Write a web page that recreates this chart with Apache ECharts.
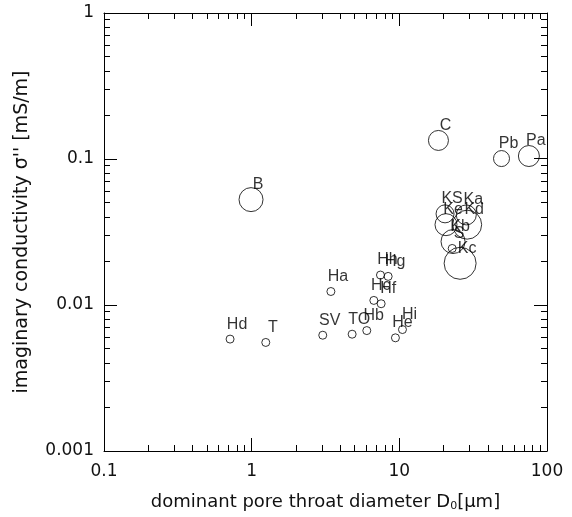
<!DOCTYPE html>
<html>
<head>
<meta charset="utf-8">
<script src="https://cdn.jsdelivr.net/npm/echarts@6/dist/echarts.min.js"></script>
<style>
  html, body { margin: 0; padding: 0; background: #fff; }
  #chart { width: 572px; height: 517px; }
</style>
</head>
<body>
<div id="chart"></div>
<script>
// Sample names, dominant pore throat diameter D0 [µm], imaginary conductivity [mS/m]
const sampleNames = ['Hd', 'T', 'SV', 'TO', 'Hb', 'Ha', 'Hh', 'Hg', 'Hc', 'Hf', 'He', 'Hi',
                     'B', 'C', 'Pb', 'Pa', 'KS', 'Ke', 'Ka', 'Kd', 'Kb', 'S', 'Kc'];
const poreThroat = [0.714, 1.246, 3.03, 4.79, 6.02, 3.44, 7.45, 8.40, 6.72, 7.53, 9.41, 10.5,
                    0.99, 18.4, 49.2, 75.4, 20.4, 20.7, 28.4, 28.8, 23.1, 22.8, 25.8];
const imagCond = [0.00584, 0.00554, 0.00621, 0.00631, 0.00668, 0.01237, 0.01604, 0.0157,
                  0.01075, 0.0102, 0.00596, 0.00679,
                  0.0527, 0.134, 0.1007, 0.1048, 0.0421, 0.0355, 0.0414, 0.0355, 0.0272, 0.0244, 0.0193];
// marker diameter for each sample
const markerSize = [8, 8, 8, 8, 8, 8, 8, 8, 8, 8, 8, 8,
                    24, 20, 16, 21, 18, 22, 20, 29, 24, 8, 32];

const xTickLabels = ['0.1', '1', '10', '100'];
const yTickLabels = ['0.001', '0.01', '0.1', '1'];
const xMinorTicks = [0.2, 0.3, 0.4, 0.5, 0.6, 0.7, 0.8, 0.9,
                     2, 3, 4, 5, 6, 7, 8, 9,
                     20, 30, 40, 50, 60, 70, 80, 90];
const yMinorTicks = [0.002, 0.003, 0.004, 0.005, 0.006, 0.007, 0.008, 0.009,
                     0.02, 0.03, 0.04, 0.05, 0.06, 0.07, 0.08, 0.09,
                     0.2, 0.3, 0.4, 0.5, 0.6, 0.7, 0.8, 0.9];

const X_MIN = 0.1, X_MAX = 100, Y_MIN = 0.001, Y_MAX = 1;
const AXIS_FONT = 'DejaVu Sans';
const MINOR_LEN = 6;

const points = sampleNames.map((n, i) => ({
  name: n,
  value: [poreThroat[i], imagCond[i], markerSize[i]]
}));

function fmt(labels, min) {
  return function (v) {
    const k = Math.round(Math.log10(v / min));
    return labels[k] !== undefined ? labels[k] : '';
  };
}

const axisLine = { show: true, onZero: false, lineStyle: { color: '#000', width: 1 } };
const majorTick = { show: true, inside: true, length: 13, lineStyle: { color: '#000', width: 1 } };

function tickLine(x1, y1, x2, y2) {
  return { type: 'line', shape: { x1, y1, x2, y2 }, style: { stroke: '#000', lineWidth: 1 } };
}
function crisp(v) { return Math.round(v - 0.5) + 0.5; }

const chart = echarts.init(document.getElementById('chart'), null, { renderer: 'canvas' });
chart.setOption({
  backgroundColor: '#fff',
  animation: false,
  grid: { left: 104, right: 25, top: 13, bottom: 62, containLabel: false },
  xAxis: [
    {
      type: 'log', logBase: 10, min: X_MIN, max: X_MAX, position: 'bottom',
      axisLine, axisTick: majorTick, splitLine: { show: false },
      axisLabel: { formatter: fmt(xTickLabels, X_MIN), fontFamily: AXIS_FONT, fontSize: 17, color: '#111', margin: 12 },
      name: 'dominant pore throat diameter D{sub|0}[µm]',
      nameLocation: 'middle', nameGap: 41,
      nameTextStyle: {
        fontFamily: AXIS_FONT, fontSize: 18, color: '#111',
        rich: { sub: { fontFamily: AXIS_FONT, fontSize: 11, color: '#111', verticalAlign: 'bottom', padding: [9, 0, 0, 0] } }
      }
    },
    {
      type: 'log', logBase: 10, min: X_MIN, max: X_MAX, position: 'top',
      axisLine, axisTick: { show: false }, axisLabel: { show: false }, splitLine: { show: false }
    }
  ],
  yAxis: [
    {
      type: 'log', logBase: 10, min: Y_MIN, max: Y_MAX, position: 'left',
      axisLine, axisTick: majorTick, splitLine: { show: false },
      axisLabel: { formatter: fmt(yTickLabels, Y_MIN), fontFamily: AXIS_FONT, fontSize: 17, color: '#111', margin: 10 },
      name: "imaginary conductivity σ'' [mS/m]",
      nameLocation: 'middle', nameGap: 72, nameRotate: 90,
      nameTextStyle: { fontFamily: AXIS_FONT, fontSize: 19, color: '#111' }
    },
    {
      type: 'log', logBase: 10, min: Y_MIN, max: Y_MAX, position: 'right',
      axisLine, axisTick: { show: false }, axisLabel: { show: false }, splitLine: { show: false }
    }
  ],
  series: [
    {
      // minor ticks along bottom and top edges
      type: 'custom', xAxisIndex: 0, yAxisIndex: 0, silent: true,
      data: xMinorTicks.map(v => [v, Y_MIN]),
      renderItem: function (params, api) {
        const v = api.value(0);
        const b = api.coord([v, Y_MIN]);
        const t = api.coord([v, Y_MAX]);
        const x = crisp(b[0]);
        return { type: 'group', children: [
          tickLine(x, b[1], x, b[1] - MINOR_LEN),
          tickLine(x, t[1], x, t[1] + MINOR_LEN)
        ] };
      }
    },
    {
      // minor ticks along left and right edges
      type: 'custom', xAxisIndex: 0, yAxisIndex: 0, silent: true,
      data: yMinorTicks.map(v => [X_MIN, v]),
      renderItem: function (params, api) {
        const v = api.value(1);
        const l = api.coord([X_MIN, v]);
        const r = api.coord([X_MAX, v]);
        const y = crisp(l[1]);
        return { type: 'group', children: [
          tickLine(l[0], y, l[0] + MINOR_LEN, y),
          tickLine(r[0], y, r[0] - MINOR_LEN, y)
        ] };
      }
    },
    {
      // major ticks along top and right edges
      type: 'custom', xAxisIndex: 0, yAxisIndex: 0, silent: true,
      data: [[1, Y_MIN], [10, Y_MIN]],
      renderItem: function (params, api) {
        const v = api.value(0);
        const t = api.coord([v, Y_MAX]);
        const x = crisp(t[0]);
        const yv = [0.01, 0.1][params.dataIndex];
        const r = api.coord([X_MAX, yv]);
        const y = crisp(r[1]);
        return { type: 'group', children: [
          tickLine(x, t[1], x, t[1] + 13),
          tickLine(r[0], y, r[0] - 13, y)
        ] };
      }
    },
    {
      type: 'scatter', xAxisIndex: 0, yAxisIndex: 0,
      symbol: 'circle',
      symbolSize: function (val) { return val[2]; },
      itemStyle: { color: 'rgba(255,255,255,0)', borderColor: '#000', borderWidth: 1 },
      label: {
        show: true, position: 'inside',
        formatter: '{b}', fontFamily: 'Liberation Sans', fontSize: 16, color: '#000'
      },
      labelLayout: { dx: 7, dy: -15, hideOverlap: false },
      data: points
    }
  ]
});
</script>
</body>
</html>
